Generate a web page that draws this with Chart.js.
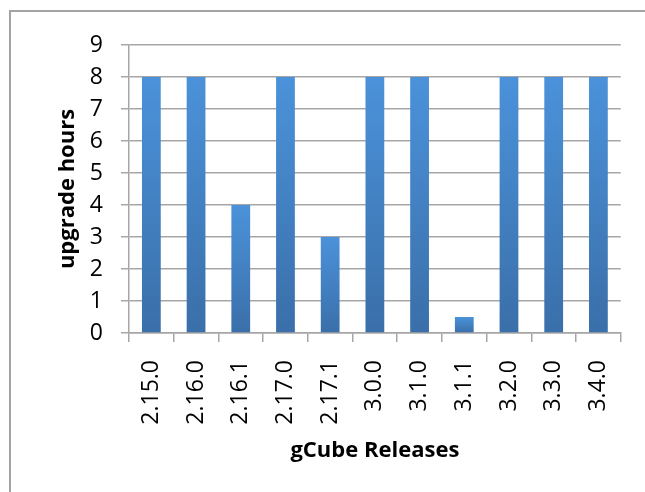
<!DOCTYPE html>
<html lang="en">
<head>
    <meta charset="UTF-8">
    <title>gCube Releases - upgrade hours</title>
    <script src="https://cdn.jsdelivr.net/npm/chart.js"></script>
    <style>
        body { margin: 0; background: #fff; }
        .frame {
            position: absolute; left: 9px; top: 10px;
            width: 680px; height: 540px;
            border: 2px solid #a3a3a3;
            pointer-events: none;
        }
        #upgradeChart { position: absolute; left: 0; top: 0; }
    </style>
</head>
<body>
    <canvas id="upgradeChart" width="645" height="492"></canvas>
    <div class="frame"></div>
    <script>
        const releases = ['2.15.0', '2.16.0', '2.16.1', '2.17.0', '2.17.1', '3.0.0', '3.1.0', '3.1.1', '3.2.0', '3.3.0', '3.4.0'];
        const upgradeHours = [8, 8, 4, 8, 3, 8, 8, 0.5, 8, 8, 8];

        const gridGray = '#a6a6a6';
        const tickFont = { family: 'Open Sans', size: 23 };
        const titleFont = { family: 'Open Sans', size: 22, weight: 'bold' };

        // each bar fades from a light blue top to a darker blue base
        function barFill(c) {
            const chart = c.chart;
            if (c.type !== 'data' || !chart.chartArea) return '#4689cf';
            const y = chart.scales.y;
            const top = y.getPixelForValue(c.raw);
            const base = y.getPixelForValue(0);
            const g = chart.ctx.createLinearGradient(0, top, 0, base);
            g.addColorStop(0, '#4b92da');
            g.addColorStop(1, '#3a6fa9');
            return g;
        }

        const ctx = document.getElementById('upgradeChart').getContext('2d');
        new Chart(ctx, {
            type: 'bar',
            data: {
                labels: releases,
                datasets: [{
                    label: 'upgrade hours',
                    data: upgradeHours,
                    backgroundColor: barFill,
                    barPercentage: 0.42,
                    categoryPercentage: 1
                }]
            },
            options: {
                responsive: false,
                animation: false,
                layout: { padding: { top: 45, right: 22, left: 0, bottom: 0 } },
                plugins: {
                    legend: { display: false },
                    tooltip: { enabled: false }
                },
                scales: {
                    x: {
                        offset: true,
                        grid: { drawOnChartArea: false, tickLength: 9, color: gridGray, lineWidth: 1.5 },
                        border: { color: gridGray, width: 1.5 },
                        ticks: { color: '#000', font: tickFont, minRotation: 90, maxRotation: 90, autoSkip: false, padding: 18 },
                        title: { display: true, text: 'gCube Releases', color: '#000', font: titleFont, padding: { top: 0, bottom: 28 } },
                        afterFit: s => { s.height = 159; }
                    },
                    y: {
                        min: 0,
                        max: 9,
                        grid: { tickLength: 8, color: gridGray, lineWidth: 1.5 },
                        border: { color: gridGray, width: 1.5 },
                        ticks: { stepSize: 1, color: '#000', font: tickFont, padding: 18 },
                        title: { display: true, text: 'upgrade hours', color: '#000', font: titleFont, padding: { top: 55, bottom: 0 } },
                        afterFit: s => { s.width = 129; }
                    }
                }
            }
        });
    </script>
</body>
</html>
